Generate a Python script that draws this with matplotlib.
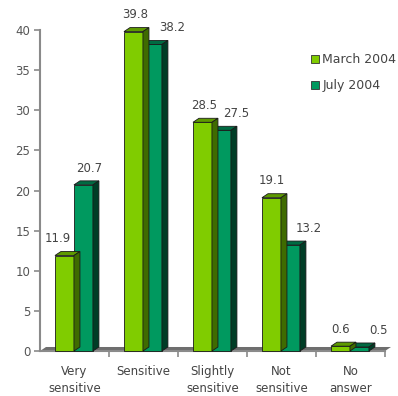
import matplotlib.pyplot as plt
from matplotlib.patches import Polygon, Rectangle, Patch

# survey answers, two rounds
categories = ["Very\nsensitive", "Sensitive", "Slightly\nsensitive", "Not\nsensitive", "No\nanswer"]
march_2004 = [11.9, 39.8, 28.5, 19.1, 0.6]
july_2004 = [20.7, 38.2, 27.5, 13.2, 0.5]
y_ticks = [0, 5, 10, 15, 20, 25, 30, 35, 40]

# colours: front, top, side
march_cols = ("#80cc00", "#5e9a00", "#3f6b00")
july_cols = ("#00995f", "#006a42", "#003d26")

bar_w = 0.275
dx, dy = 0.087, 0.5
label_shift_march = [-0.1, 0.02, 0.03, 0.0, 0.0]
label_shift_july = [0.08, 0.29, 0.22, 0.26, 0.27]

fig = plt.figure(figsize=(3.98, 3.96), dpi=100)
ax = fig.add_axes([40 / 398, 45 / 396, 345 / 398, 321 / 396])
ax.set_xlim(0, 5)
ax.set_ylim(0, 40)


def bar3d(x, h, cols):
    front, top, side = cols
    ax.add_patch(Rectangle((x, 0), bar_w, h, facecolor=front, edgecolor="#1a1a1a",
                           lw=0.6, zorder=3, clip_on=False))
    ax.add_patch(Polygon([(x, h), (x + bar_w, h), (x + bar_w + dx, h + dy), (x + dx, h + dy)],
                         facecolor=top, edgecolor="#1a1a1a", lw=0.6, zorder=3, clip_on=False))
    ax.add_patch(Polygon([(x + bar_w, 0), (x + bar_w + dx, dy), (x + bar_w + dx, h + dy), (x + bar_w, h)],
                         facecolor=side, edgecolor="#1a1a1a", lw=0.6, zorder=3, clip_on=False))


# floor
ax.add_patch(Polygon([(0, 0), (5, 0), (5 + dx, dy), (dx, dy)], facecolor="#6e6e6e",
                     edgecolor="none", zorder=1, clip_on=False))

for i in range(len(categories)):
    xm = i + 0.217
    xj = xm + bar_w
    bar3d(xj, july_2004[i], july_cols)
    bar3d(xm, march_2004[i], march_cols)
    ax.text(xm + bar_w / 2 + label_shift_march[i], march_2004[i] + 2.1, str(march_2004[i]),
            ha="center", va="center", fontsize=8.5, color="#444444")
    ax.text(xj + bar_w / 2 + label_shift_july[i], july_2004[i] + 2.1, str(july_2004[i]),
            ha="center", va="center", fontsize=8.5, color="#444444")

for s in ["top", "right"]:
    ax.spines[s].set_visible(False)
for s in ["left", "bottom"]:
    ax.spines[s].set_color("#8a8a8a")
    ax.spines[s].set_linewidth(1.5)

ax.set_yticks(y_ticks)
ax.set_yticklabels([str(t) for t in y_ticks], fontsize=8.5, color="#555555")
ax.tick_params(axis="y", length=4, color="#8a8a8a", width=1.2, pad=3)
ax.set_xticks([1, 2, 3, 4, 5])
ax.set_xticklabels([])
ax.tick_params(axis="x", length=4, color="#8a8a8a", width=1.2, direction="out")

for i, c in enumerate(categories):
    ax.text(i + 0.5, -1.7, c, ha="center", va="top", fontsize=8.5, color="#444444",
            linespacing=1.45, clip_on=False)

handles = [Patch(facecolor=march_cols[0], edgecolor="#333333", lw=0.6),
           Patch(facecolor=july_cols[0], edgecolor="#333333", lw=0.6)]
fig.legend(handles, ["March 2004", "July 2004"], loc="upper left",
           bbox_to_anchor=(311 / 398, 1 - 53 / 396), frameon=False, fontsize=9,
           handlelength=0.6, handleheight=0.6, handletextpad=0.3, labelspacing=1.05,
           labelcolor="#444444", borderaxespad=0, borderpad=0)

fig.savefig("out.png", dpi=100)
